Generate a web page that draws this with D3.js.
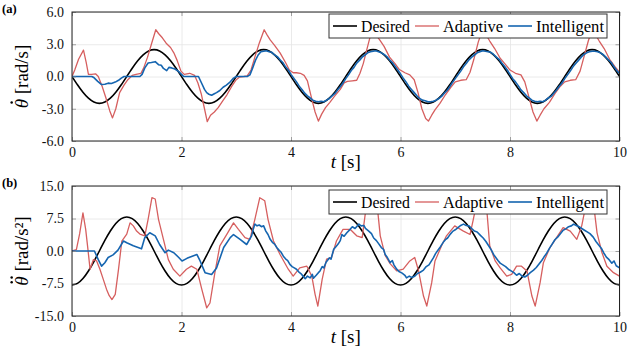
<!DOCTYPE html>
<html>
<head>
<meta charset="utf-8">
<script src="https://cdn.jsdelivr.net/npm/d3@7"></script>
<style>
  body { margin: 0; background: #fff; }
</style>
</head>
<body>
<div class="canvas"></div>
<script>
// ---- data ----
const seriesNames = ['Desired', 'Adaptive', 'Intelligent'];
const xTicks = [0, 2, 4, 6, 8, 10];
const velTicks = [-6, -3, 0, 3, 6];
const accTicks = [-15, -7.5, 0, 7.5, 15];

// desired signals sampled every 0.1 s
const sampleTimes = d3.range(0, 10.001, 0.1);
const desiredVel = [
  0, -0.77, -1.47, -2.02, -2.38, -2.5, -2.38, -2.02, -1.47, -0.77, 0, 0.77, 1.47, 2.02, 2.38, 2.5, 2.38, 2.02, 1.47, 0.77,
  0, -0.77, -1.47, -2.02, -2.38, -2.5, -2.38, -2.02, -1.47, -0.77, 0, 0.77, 1.47, 2.02, 2.38, 2.5, 2.38, 2.02, 1.47, 0.77,
  0, -0.77, -1.47, -2.02, -2.38, -2.5, -2.38, -2.02, -1.47, -0.77, 0, 0.77, 1.47, 2.02, 2.38, 2.5, 2.38, 2.02, 1.47, 0.77,
  0, -0.77, -1.47, -2.02, -2.38, -2.5, -2.38, -2.02, -1.47, -0.77, 0, 0.77, 1.47, 2.02, 2.38, 2.5, 2.38, 2.02, 1.47, 0.77,
  0, -0.77, -1.47, -2.02, -2.38, -2.5, -2.38, -2.02, -1.47, -0.77, 0, 0.77, 1.47, 2.02, 2.38, 2.5, 2.38, 2.02, 1.47, 0.77,
  0];
const desiredAcc = [
  -7.85, -7.47, -6.35, -4.61, -2.43, 0, 2.43, 4.61, 6.35, 7.47, 7.85, 7.47, 6.35, 4.61, 2.43, 0, -2.43, -4.61, -6.35, -7.47,
  -7.85, -7.47, -6.35, -4.61, -2.43, 0, 2.43, 4.61, 6.35, 7.47, 7.85, 7.47, 6.35, 4.61, 2.43, 0, -2.43, -4.61, -6.35, -7.47,
  -7.85, -7.47, -6.35, -4.61, -2.43, 0, 2.43, 4.61, 6.35, 7.47, 7.85, 7.47, 6.35, 4.61, 2.43, 0, -2.43, -4.61, -6.35, -7.47,
  -7.85, -7.47, -6.35, -4.61, -2.43, 0, 2.43, 4.61, 6.35, 7.47, 7.85, 7.47, 6.35, 4.61, 2.43, 0, -2.43, -4.61, -6.35, -7.47,
  -7.85, -7.47, -6.35, -4.61, -2.43, 0, 2.43, 4.61, 6.35, 7.47, 7.85, 7.47, 6.35, 4.61, 2.43, 0, -2.43, -4.61, -6.35, -7.47,
  -7.85];

// measured responses as [t, value]
const adaptiveVel = [
  [0,0],[0.05,0.6],[0.12,1.6],[0.21,2.45],[0.26,1.3],[0.3,0.2],[0.36,0.2],[0.43,0.25],[0.48,0],[0.55,-0.9],[0.62,-2.0],
  [0.69,-3.2],[0.74,-3.85],[0.8,-3.0],[0.87,-1.5],[0.95,-0.8],[1.02,-0.3],[1.1,0.1],[1.17,0.2],[1.26,0.3],[1.31,0.8],
  [1.38,1.8],[1.45,3.0],[1.53,4.35],[1.58,4.0],[1.65,3.6],[1.72,3.1],[1.8,2.7],[1.86,2.2],[1.92,1.5],[1.99,0.5],
  [2.05,0.2],[2.15,0.3],[2.24,0.1],[2.3,-0.6],[2.36,-1.6],[2.42,-3.0],[2.47,-4.2],[2.53,-3.6],[2.6,-3.3],[2.67,-2.9],
  [2.75,-2.3],[2.83,-1.7],[2.92,-0.9],[3.0,-0.3],[3.06,-0.05],[3.14,0],[3.2,0.05],[3.27,0.6],[3.34,1.8],[3.42,3.1],
  [3.51,4.35],[3.56,3.9],[3.62,3.4],[3.7,2.9],[3.8,2.2],[3.9,1.3],[3.97,0.6],[4.04,0.35],[4.1,0.35],[4.17,0.3],
  [4.24,0.1],[4.3,-0.4],[4.38,-2.1],[4.44,-3.3],[4.5,-4.15],[4.56,-3.5],[4.63,-2.9],[4.71,-2.4],[4.8,-1.8],[4.9,-1.2],
  [4.97,-0.6],[5.03,-0.45],[5.12,-0.4],[5.2,-0.35],[5.26,0.3],[5.32,1.2],[5.38,2.4],[5.44,3.6],[5.5,4.4],[5.56,3.8],
  [5.62,3.4],[5.7,2.8],[5.8,1.8],[5.9,1.2],[5.98,0.65],[6.08,0.35],[6.17,0.15],[6.25,-0.3],[6.32,-1.5],[6.39,-3.0],
  [6.46,-3.9],[6.51,-4.15],[6.57,-3.6],[6.63,-3.1],[6.72,-2.5],[6.82,-1.7],[6.92,-1.0],[7.0,-0.5],[7.1,-0.35],[7.2,-0.3],
  [7.27,0.4],[7.34,1.6],[7.42,3.2],[7.5,4.4],[7.56,3.9],[7.63,3.3],[7.72,2.6],[7.82,1.7],[7.92,1.1],[8.0,0.6],
  [8.1,0.3],[8.2,0.15],[8.27,-0.5],[8.34,-1.8],[8.42,-3.3],[8.49,-4.15],[8.55,-3.6],[8.62,-3.0],[8.72,-2.4],[8.82,-1.6],
  [8.92,-0.9],[9.0,-0.5],[9.1,-0.35],[9.2,-0.3],[9.28,0.5],[9.35,1.8],[9.43,3.3],[9.5,4.4],[9.56,3.9],[9.63,3.3],
  [9.72,2.6],[9.82,1.6],[9.92,0.9],[10,0.4]];

const intelligentVel = [
  [0,0],[0.36,0],[0.4,-0.1],[0.47,-0.45],[0.54,-0.75],[0.6,-0.72],[0.66,-0.62],[0.72,-0.65],[0.79,-0.52],[0.85,-0.35],
  [0.9,-0.15],[0.95,0],[1.24,0],[1.28,0.2],[1.33,0.8],[1.39,1.25],[1.45,1.3],[1.52,1.38],[1.58,1.1],[1.63,1.05],
  [1.67,0.75],[1.73,0.55],[1.77,0.85],[1.82,0.8],[1.88,0.7],[1.95,0.45],[2.0,0.2],[2.04,0],[2.31,0],[2.37,-0.65],
  [2.42,-1.2],[2.46,-1.5],[2.5,-1.65],[2.55,-1.75],[2.6,-1.6],[2.64,-1.5],[2.7,-1.3],[2.76,-1.0],[2.82,-0.8],[2.88,-0.55],
  [2.95,-0.15],[3.0,0],[3.2,0],[3.25,0.15],[3.3,0.8],
  [3.35,1.5],[3.4,2.0],[3.45,2.3],[3.5,2.35],[3.55,2.4],[3.6,2.3],[3.65,2.25],[3.7,2.0],[3.75,1.85],[3.8,1.55],
  [3.85,1.3],[3.9,0.9],[3.95,0.6],[4.0,0.2],
  [4.05,-0.15],[4.1,-0.5],[4.15,-0.9],[4.2,-1.2],[4.25,-1.55],[4.3,-1.8],[4.35,-2.0],[4.4,-2.2],[4.45,-2.3],[4.5,-2.35],
  [4.55,-2.3],[4.6,-2.35],[4.65,-2.2],[4.7,-2.05],[4.75,-1.8],[4.8,-1.6],[4.85,-1.25],[4.9,-0.95],[4.95,-0.6],[5.0,-0.2],
  [5.05,0.15],[5.1,0.55],[5.15,0.85],[5.2,1.25],[5.25,1.5],[5.3,1.8],[5.35,2.0],[5.4,2.2],[5.45,2.3],[5.5,2.35],
  [5.55,2.4],[5.6,2.3],[5.65,2.2],[5.7,2.05],[5.75,1.85],[5.8,1.55],[5.85,1.3],[5.9,0.95],[5.95,0.6],[6.0,0.25],
  [6.05,-0.15],[6.1,-0.5],[6.15,-0.9],[6.2,-1.2],[6.25,-1.5],[6.3,-1.8],[6.35,-2.05],[6.4,-2.2],[6.45,-2.25],[6.5,-2.35],
  [6.55,-2.35],[6.6,-2.3],[6.65,-2.2],[6.7,-2.05],[6.75,-1.85],[6.8,-1.55],[6.85,-1.3],[6.9,-0.95],[6.95,-0.55],[7.0,-0.2],
  [7.05,0.15],[7.1,0.5],[7.15,0.9],[7.2,1.2],[7.25,1.55],[7.3,1.8],[7.35,2.0],[7.4,2.2],[7.45,2.3],[7.5,2.4],
  [7.55,2.35],[7.6,2.3],[7.65,2.25],[7.7,2.05],[7.75,1.8],[7.8,1.6],[7.85,1.25],[7.9,0.95],[7.95,0.6],[8.0,0.2],
  [8.05,-0.2],[8.1,-0.5],[8.15,-0.85],[8.2,-1.25],[8.25,-1.5],[8.3,-1.8],[8.35,-2.0],[8.4,-2.2],[8.45,-2.3],[8.5,-2.35],
  [8.55,-2.3],[8.6,-2.35],[8.65,-2.2],[8.7,-2.0],[8.75,-1.85],[8.8,-1.55],[8.85,-1.25],[8.9,-0.9],[8.95,-0.6],[9.0,-0.2],
  [9.05,0.15],[9.1,0.5],[9.15,0.9],[9.2,1.2],[9.25,1.5],[9.3,1.8],[9.35,2.05],[9.4,2.2],[9.45,2.3],[9.5,2.35],
  [9.55,2.35],[9.6,2.3],[9.65,2.2],[9.7,2.05],[9.75,1.8],[9.8,1.55],[9.85,1.3],[9.9,0.9],[9.95,0.55],[10,0.3]];

const adaptiveAcc = [
  [0,0],[0.08,0.3],[0.14,4.0],[0.2,8.8],[0.25,5.0],[0.29,0.5],[0.33,-4.2],[0.39,-2.0],[0.45,-2.3],[0.51,-4.2],
  [0.57,-6.5],[0.63,-8.8],[0.68,-10.3],[0.73,-11.2],[0.79,-10.0],[0.85,-4.2],[0.91,2.3],[1.0,3.9],[1.06,6.5],[1.12,5.8],
  [1.18,4.6],[1.24,3.9],[1.33,3.5],[1.39,7.3],[1.46,12.3],[1.52,12.0],[1.58,7.3],[1.67,2.7],[1.76,-2.0],[1.85,-4.2],
  [1.97,-5.8],[2.09,-4.2],[2.18,-3.5],[2.28,-4.2],[2.37,-8.8],[2.46,-13.1],[2.52,-12.0],[2.61,-5.0],[2.7,1.2],[2.83,3.9],
  [2.95,6.5],[3.04,5.0],[3.16,3.1],[3.25,2.7],[3.34,7.3],[3.43,12.3],[3.52,11.6],[3.58,7.3],[3.68,2.3],[3.8,-0.8],
  [3.95,-4.2],[4.04,-5.8],[4.16,-3.9],[4.29,-3.5],[4.38,-5.8],[4.44,-10.0],[4.49,-12.7],[4.57,-6.5],[4.65,-1.9],[4.74,-1.5],
  [4.83,2.3],[4.95,5.0],[5.08,5.0],[5.2,3.5],[5.3,3.1],[5.36,8.9],[5.43,12.0],[5.5,12.3],[5.57,11.0],[5.63,3.5],
  [5.72,-1.0],[5.81,-2.9],[5.93,-4.6],[6.05,-4.2],[6.17,-2.3],[6.26,-1.5],[6.33,-4.6],[6.42,-10.4],[6.48,-12.7],[6.57,-7.3],
  [6.63,-2.3],[6.75,1.2],[6.84,3.5],[6.99,5.8],[7.15,4.6],[7.27,3.8],[7.33,7.3],[7.39,11.0],[7.46,12.3],[7.53,11.5],
  [7.58,8.9],[7.63,1.2],[7.73,-2.3],[7.82,-3.9],[7.94,-5.8],[8.03,-5.4],[8.12,-3.5],[8.21,-3.5],[8.31,-4.6],[8.4,-10.4],
  [8.46,-12.7],[8.55,-7.3],[8.61,-2.7],[8.73,0.8],[8.85,3.1],[8.97,5.4],[9.1,4.6],[9.22,2.7],[9.31,5.8],[9.37,9.6],
  [9.44,12.3],[9.52,11.5],[9.59,4.2],[9.68,-0.4],[9.77,-3.5],[9.89,-5.0],[10,-5.8]];

const intelligentAcc = [
  [0,0],[0.41,0],[0.48,-2.0],[0.54,-3.5],[0.6,-2.7],[0.66,-1.5],[0.75,-0.9],[0.84,0.2],[0.94,2.3],[1.0,1.9],
  [1.12,1.2],[1.27,0.5],[1.33,3.1],[1.42,4.2],[1.52,3.5],[1.6,1.5],[1.7,-0.4],[1.76,0.2],[1.86,-0.4],[1.95,-1.5],
  [2.01,-2.3],[2.1,-1.7],[2.28,-0.8],[2.34,-2.3],[2.43,-5.0],[2.55,-5.4],[2.64,-3.9],[2.77,0.8],[2.89,3.1],[2.95,3.8],
  [3.07,2.7],[3.19,1.5],[3.28,3.5],[3.31,5.0],[3.34,6.2],[3.38,5.8],[3.42,6.0],[3.46,5.6],[3.5,5.8],[3.54,4.6],
  [3.58,3.8],[3.62,2.7],[3.66,2.0],[3.7,1.6],[3.74,0.8],[3.78,0.2],[3.82,-0.3],[3.86,-1.2],[3.9,-1.8],[3.94,-2.2],
  [3.98,-3.1],[4.02,-3.6],[4.06,-3.9],[4.1,-4.2],[4.14,-4.8],[4.18,-5.2],[4.22,-5.8],[4.26,-6.4],[4.3,-5.8],[4.35,-6.2],
  [4.39,-5.4],[4.41,-6.3],[4.46,-5.6],[4.5,-5.0],[4.53,-4.6],[4.57,-3.6],[4.6,-3.9],[4.64,-2.6],[4.7,-1.6],[4.73,-1.9],
  [4.78,0.4],[4.82,1.0],[4.86,1.6],[4.9,2.4],[4.93,3.8],[4.97,3.4],[5.02,4.2],[5.08,5.0],[5.12,5.6],[5.17,5.2],
  [5.24,6.2],[5.28,5.8],[5.33,5.9],[5.36,5.2],[5.42,4.6],[5.47,4.0],[5.51,3.0],[5.56,2.4],[5.6,1.7],[5.65,0.8],
  [5.69,0.4],[5.72,-0.8],[5.76,-1.5],[5.81,-2.7],[5.85,-2.2],[5.88,-3.2],[5.93,-4.2],[5.98,-4.8],[6.03,-5.1],[6.08,-5.6],
  [6.11,-6.2],[6.16,-5.8],[6.2,-6.1],[6.26,-5.8],[6.31,-5.2],[6.36,-4.9],[6.42,-4.4],[6.47,-3.6],[6.52,-3.2],[6.56,-2.4],
  [6.6,-1.6],[6.64,-0.6],[6.68,0.1],[6.73,1.0],[6.78,2.0],[6.82,2.6],[6.86,3.0],[6.91,3.9],[6.96,4.6],[7.0,4.9],
  [7.05,5.4],[7.1,5.9],[7.15,6.2],[7.2,5.9],[7.25,5.8],[7.3,5.2],[7.35,4.6],[7.4,4.4],[7.46,3.6],[7.51,3.0],
  [7.56,2.2],[7.61,1.2],[7.66,0.2],[7.7,-0.8],[7.74,-1.5],[7.78,-2.2],[7.82,-2.8],[7.87,-3.2],[7.92,-3.6],[7.97,-4.2],
  [8.02,-4.6],[8.07,-5.0],[8.12,-5.6],[8.17,-5.2],[8.22,-5.8],[8.27,-6.0],[8.32,-5.6],[8.37,-5.0],[8.43,-4.4],[8.48,-3.8],
  [8.53,-3.0],[8.58,-2.2],[8.62,-1.4],[8.67,-0.5],[8.72,0.6],[8.77,1.6],[8.82,2.6],[8.87,3.2],[8.92,4.0],[8.97,4.8],
  [9.02,5.1],[9.07,5.6],[9.12,5.8],[9.16,6.2],[9.21,5.9],[9.26,5.6],[9.31,5.2],[9.36,4.8],[9.41,4.4],[9.46,4.0],
  [9.52,3.2],[9.57,2.2],[9.62,1.4],[9.67,0.6],[9.71,-0.4],[9.76,-1.4],[9.81,-2.0],[9.86,-2.8],[9.9,-2.3],[9.94,-3.4],
  [10,-3.9]];

// ---- layout ----
const W = 628, H = 354;
const serif = "'Liberation Serif'";
const colours = { Desired: '#000000', Adaptive: '#d65f5f', Intelligent: '#1565b0' };
const widths = { Desired: 1.6, Adaptive: 1.3, Intelligent: 1.6 };

const svg = d3.select('.canvas')
  .append('svg')
  .attr('width', W)
  .attr('height', H)
  .attr('font-family', serif);

const x = d3.scaleLinear().domain([0, 10]).range([72, 619.5]);

const panels = [
  {
    tag: '(a)', top: 12, bottom: 141, domain: [-6, 6], ticks: velTicks,
    yLabel: ' [rad/s]', dots: 1, legendTop: 14,
    series: {
      Desired: sampleTimes.map((t, i) => [t, desiredVel[i]]),
      Adaptive: adaptiveVel,
      Intelligent: intelligentVel
    }
  },
  {
    tag: '(b)', top: 186, bottom: 316, domain: [-15, 15], ticks: accTicks,
    yLabel: ' [rad/s²]', dots: 2, legendTop: 190,
    series: {
      Desired: sampleTimes.map((t, i) => [t, desiredAcc[i]]),
      Adaptive: adaptiveAcc,
      Intelligent: intelligentAcc
    }
  }
];

panels.forEach((p, pi) => {
  const y = d3.scaleLinear().domain(p.domain).range([p.bottom, p.top]);
  const h = p.bottom - p.top;
  const left = x.range()[0], right = x.range()[1];
  const g = svg.append('g');

  // grid
  g.append('g')
    .attr('transform', `translate(0, ${p.bottom})`)
    .call(d3.axisBottom(x).tickValues(xTicks).tickSize(-h).tickFormat(''))
    .call(a => a.select('.domain').remove())
    .selectAll('line').attr('stroke', '#e4e4e4').attr('stroke-width', 0.8);
  g.append('g')
    .attr('transform', `translate(${left}, 0)`)
    .call(d3.axisLeft(y).tickValues(p.ticks).tickSize(-(right - left)).tickFormat(''))
    .call(a => a.select('.domain').remove())
    .selectAll('line').attr('stroke', '#e4e4e4').attr('stroke-width', 0.8);

  // lines
  const clipId = 'clip' + pi;
  svg.append('clipPath').attr('id', clipId)
    .append('rect').attr('x', left).attr('y', p.top).attr('width', right - left).attr('height', h);

  const lineGroup = g.append('g').attr('clip-path', `url(#${clipId})`);
  seriesNames.forEach(name => {
    const line = d3.line()
      .x(d => x(d[0]))
      .y(d => y(d[1]))
      .curve(name === 'Desired' ? d3.curveNatural : d3.curveLinear);
    lineGroup.append('path')
      .datum(p.series[name])
      .attr('fill', 'none')
      .attr('stroke', colours[name])
      .attr('stroke-width', widths[name])
      .attr('stroke-linejoin', 'round')
      .attr('d', line);
  });

  // axes with inward ticks on all sides
  const tickCol = '#8a8a8a';
  const bottomAxis = g.append('g')
    .attr('transform', `translate(0, ${p.bottom})`)
    .call(d3.axisBottom(x).tickValues(xTicks).tickSizeInner(-4).tickSizeOuter(0).tickPadding(6).tickFormat(d3.format('d')));
  const leftAxis = g.append('g')
    .attr('transform', `translate(${left}, 0)`)
    .call(d3.axisLeft(y).tickValues(p.ticks).tickSizeInner(-4).tickSizeOuter(0).tickPadding(8).tickFormat(d => d.toFixed(1)));
  const topAxis = g.append('g')
    .attr('transform', `translate(0, ${p.top})`)
    .call(d3.axisTop(x).tickValues(xTicks).tickSizeInner(-4).tickSizeOuter(0).tickFormat(''));
  const rightAxis = g.append('g')
    .attr('transform', `translate(${right}, 0)`)
    .call(d3.axisRight(y).tickValues(p.ticks).tickSizeInner(-4).tickSizeOuter(0).tickFormat(''));

  [bottomAxis, leftAxis, topAxis, rightAxis].forEach(a => {
    a.attr('font-family', serif).attr('font-size', 14);
    a.select('.domain').remove();
    a.selectAll('line').attr('stroke', tickCol).attr('stroke-width', 0.8);
    a.selectAll('text').attr('fill', '#111').attr('font-family', serif);
  });

  // frame
  g.append('rect')
    .attr('x', left).attr('y', p.top)
    .attr('width', right - left).attr('height', h)
    .attr('fill', 'none').attr('stroke', '#222').attr('stroke-width', 1);

  // panel tag
  g.append('text')
    .attr('x', 2).attr('y', p.top + 1)
    .attr('font-family', serif)
    .attr('font-weight', 'bold').attr('font-size', 12.5)
    .text(p.tag);

  // y label: theta with dot(s) above, rotated
  const fs = 19;
  const ylg = g.append('g')
    .attr('transform', `translate(28, ${(p.top + p.bottom) / 2}) rotate(-90)`);
  const yl = ylg.append('text').attr('font-size', fs).attr('font-family', serif);
  const th = yl.append('tspan').attr('font-style', 'italic').text('θ');
  yl.append('tspan').text(p.yLabel);
  const total = yl.node().getComputedTextLength();
  const thW = th.node().getComputedTextLength();
  const x0 = -total / 2;
  yl.attr('x', x0);
  const dotCx = x0 + thW * 0.62;
  const dotOffsets = p.dots === 1 ? [0] : [-2.4, 2.4];
  dotOffsets.forEach(o => {
    ylg.append('circle')
      .attr('cx', dotCx + o).attr('cy', -fs * 0.86)
      .attr('r', 1.25).attr('fill', '#000');
  });

  // x label
  const xl = g.append('text')
    .attr('x', (left + right) / 2)
    .attr('y', p.bottom + 27)
    .attr('text-anchor', 'middle')
    .attr('font-family', serif)
    .attr('font-size', 19);
  xl.append('tspan').attr('font-style', 'italic').text('t');
  xl.append('tspan').text(' [s]');

  // legend
  const legendGroup = g.append('g').attr('transform', `translate(329, ${p.legendTop})`);
  legendGroup.append('rect')
    .attr('width', 278).attr('height', 24)
    .attr('fill', '#fff').attr('stroke', '#333').attr('stroke-width', 1);
  const textLen = { Desired: 49, Adaptive: 60, Intelligent: 68 };
  let cx = 4;
  seriesNames.forEach(name => {
    legendGroup.append('line')
      .attr('x1', cx).attr('x2', cx + 24)
      .attr('y1', 12).attr('y2', 12)
      .attr('stroke', colours[name])
      .attr('stroke-width', widths[name]);
    legendGroup.append('text')
      .attr('x', cx + 28).attr('y', 17.5)
      .attr('font-family', serif)
      .attr('font-size', 16)
      .attr('textLength', textLen[name])
      .attr('lengthAdjust', 'spacingAndGlyphs')
      .text(name);
    cx += 28 + textLen[name] + 5;
  });
});
</script>
</body>
</html>
